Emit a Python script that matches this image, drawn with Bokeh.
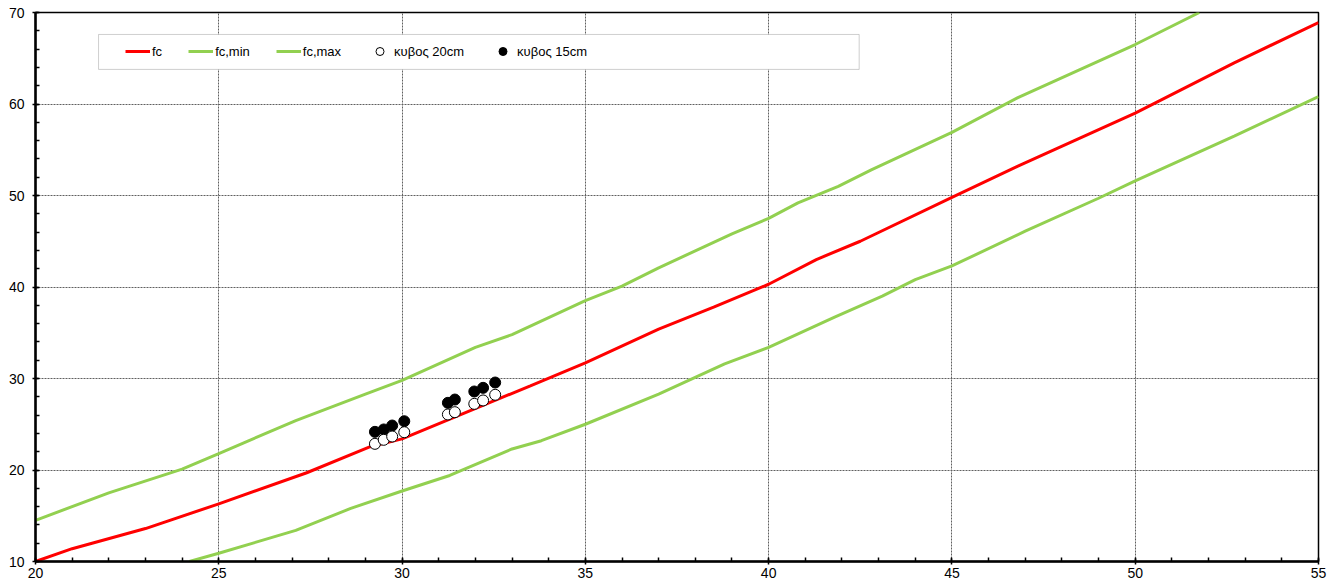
from bokeh.plotting import figure
from bokeh.models import Range1d, Legend, LegendItem, BoxAnnotation, FixedTicker
from bokeh.embed import file_html
from bokeh.resources import INLINE

# ---- data ----
fc_x = [20, 21, 23, 25, 27.4, 29.1, 30, 31.5, 33.5, 35, 37, 38.5, 40, 41.3, 42.5, 45, 46.8, 50, 52.7, 55]
fc_y = [10.0, 11.4, 13.6, 16.3, 19.7, 22.5, 23.4, 25.9, 29.2, 31.7, 35.4, 37.8, 40.3, 43.0, 45.0, 49.8, 53.2, 59.0, 64.5, 68.9]

fcmax_x = [20, 22, 24, 25, 27.1, 29, 30, 32, 33, 35, 36, 37, 39, 40, 40.8, 41.9, 42.8, 45, 46.8, 50, 51.75]
fcmax_y = [14.5, 17.5, 20.1, 21.8, 25.4, 28.3, 29.8, 33.4, 34.8, 38.5, 40.1, 42.1, 45.8, 47.5, 49.2, 51.0, 52.8, 56.9, 60.7, 66.5, 70.0]

fcmin_x = [24.2, 25, 27.1, 28.6, 30, 31.3, 33, 33.8, 35, 37, 38.8, 40, 41.8, 43.1, 44, 45, 47, 49, 50, 52.7, 55]
fcmin_y = [10.0, 10.9, 13.4, 15.8, 17.7, 19.4, 22.3, 23.2, 25.0, 28.3, 31.6, 33.4, 36.7, 39.0, 40.8, 42.3, 46.1, 49.7, 51.6, 56.5, 60.8]

cube_x = [29.26, 29.50, 29.73, 30.06, 31.25, 31.44, 31.97, 32.21, 32.54]
cube20_y = [22.86, 23.30, 23.66, 24.13, 26.07, 26.32, 27.23, 27.60, 28.22]
cube15_y = [24.17, 24.43, 24.86, 25.33, 27.34, 27.70, 28.58, 28.98, 29.56]

x_ticks = [20, 25, 30, 35, 40, 45, 50, 55]
y_ticks = [10, 20, 30, 40, 50, 60, 70]
x_minor = list(range(20, 56, 1))
y_minor = list(range(10, 71, 2))

FONT = "Liberation Sans"

p = figure(width=1339, height=584,
           x_range=Range1d(20, 55), y_range=Range1d(10, 70),
           output_backend="svg", toolbar_location=None,
           min_border_left=35, min_border_right=21,
           min_border_top=12, min_border_bottom=23,
           background_fill_color="white", border_fill_color="white")

p.outline_line_color = "black"
p.outline_line_width = 1.5

p.xaxis.ticker = FixedTicker(ticks=x_ticks, minor_ticks=x_minor)
p.yaxis.ticker = FixedTicker(ticks=y_ticks, minor_ticks=y_minor)

for ax in (p.xaxis, p.yaxis):
    ax.axis_line_color = "black"
    ax.axis_line_width = 2.5
    ax.major_tick_line_color = "black"
    ax.major_tick_line_width = 1.5
    ax.major_tick_in = 3
    ax.major_tick_out = 3
    ax.minor_tick_line_color = "black"
    ax.minor_tick_line_width = 1.5
    ax.minor_tick_in = 4
    ax.minor_tick_out = 0
    ax.major_label_text_font = FONT
    ax.major_label_text_font_size = "14px"
    ax.major_label_text_color = "black"

p.xaxis.major_label_standoff = 3
p.yaxis.major_label_standoff = 8

for g in (p.xgrid, p.ygrid):
    g.grid_line_color = "#606060"
    g.grid_line_dash = "2 1"
    g.grid_line_width = 1

r_fc = p.line(fc_x, fc_y, line_color="#ff0000", line_width=3)
r_min = p.line(fcmin_x, fcmin_y, line_color="#92d050", line_width=3)
r_max = p.line(fcmax_x, fcmax_y, line_color="#92d050", line_width=3)
r_15 = p.scatter(cube_x, cube15_y, marker="circle", size=11,
                 fill_color="black", line_color="black", line_width=1)
r_20 = p.scatter(cube_x, cube20_y, marker="circle", size=11,
                 fill_color="white", line_color="black", line_width=1)

# legend frame (Excel-style wide box)
box = BoxAnnotation(left=21.72, right=42.47, bottom=63.78, top=67.6,
                    fill_color="white", fill_alpha=1,
                    line_color="#606060", line_width=1)
p.add_layout(box)

legend = Legend(items=[
    LegendItem(label="fc", renderers=[r_fc]),
    LegendItem(label="fc,min", renderers=[r_min]),
    LegendItem(label="fc,max", renderers=[r_max]),
    LegendItem(label="κυβος 20cm", renderers=[r_20]),
    LegendItem(label="κυβος 15cm", renderers=[r_15]),
], orientation="horizontal", location=(90, 500),
    padding=0, margin=0, spacing=26, label_standoff=2,
    glyph_width=25, glyph_height=20, label_height=20, label_width=0,
    border_line_alpha=0, background_fill_alpha=0,
    label_text_font=FONT, label_text_font_size="13px", label_text_color="black")
p.add_layout(legend)

open("out.html", "w").write(file_html(p, INLINE))
